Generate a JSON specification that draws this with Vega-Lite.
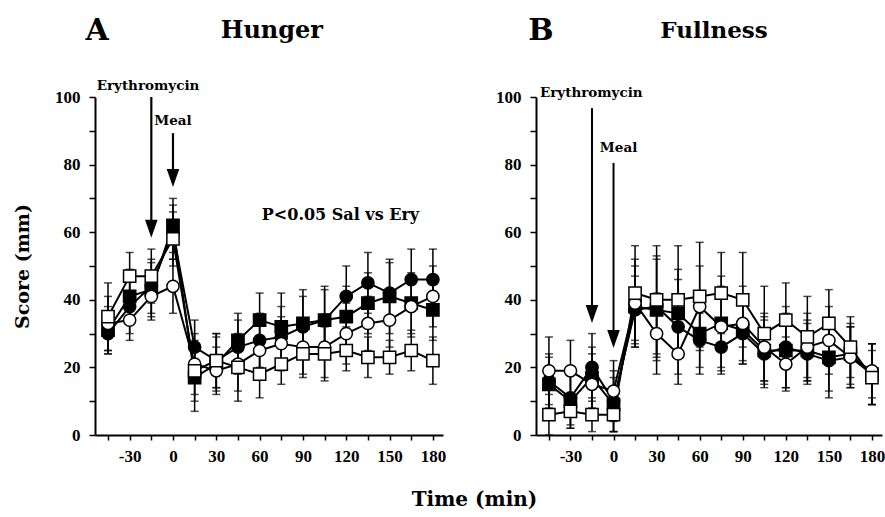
{
  "$schema": "https://vega.github.io/schema/vega-lite/v6.json",
  "background": "white",
  "padding": {"left": 13, "top": 15, "right": 0, "bottom": 0},
  "spacing": 93,
  "bounds": "flush",
  "datasets": {
    "hunger": [
      {"t": -45, "s": "fc", "v": 30, "e": 6}, {"t": -45, "s": "fs", "v": 31, "e": 7}, {"t": -45, "s": "oc", "v": 33, "e": 8}, {"t": -45, "s": "os", "v": 35, "e": 10},
      {"t": -30, "s": "fc", "v": 38, "e": 8}, {"t": -30, "s": "fs", "v": 41, "e": 8}, {"t": -30, "s": "oc", "v": 34, "e": 6}, {"t": -30, "s": "os", "v": 47, "e": 7},
      {"t": -15, "s": "fc", "v": 44, "e": 8}, {"t": -15, "s": "fs", "v": 43, "e": 8}, {"t": -15, "s": "oc", "v": 41, "e": 7}, {"t": -15, "s": "os", "v": 47, "e": 8},
      {"t": 0, "s": "fc", "v": 60, "e": 8}, {"t": 0, "s": "fs", "v": 62, "e": 8}, {"t": 0, "s": "oc", "v": 44, "e": 8}, {"t": 0, "s": "os", "v": 58, "e": 8},
      {"t": 15, "s": "fc", "v": 26, "e": 8}, {"t": 15, "s": "fs", "v": 17, "e": 10}, {"t": 15, "s": "oc", "v": 21, "e": 9}, {"t": 15, "s": "os", "v": 19, "e": 9},
      {"t": 30, "s": "fc", "v": 22, "e": 8}, {"t": 30, "s": "fs", "v": 21, "e": 8}, {"t": 30, "s": "oc", "v": 19, "e": 7}, {"t": 30, "s": "os", "v": 22, "e": 8},
      {"t": 45, "s": "fc", "v": 26, "e": 8}, {"t": 45, "s": "fs", "v": 28, "e": 8}, {"t": 45, "s": "oc", "v": 21, "e": 8}, {"t": 45, "s": "os", "v": 20, "e": 10},
      {"t": 60, "s": "fc", "v": 28, "e": 8}, {"t": 60, "s": "fs", "v": 34, "e": 8}, {"t": 60, "s": "oc", "v": 25, "e": 8}, {"t": 60, "s": "os", "v": 18, "e": 7},
      {"t": 75, "s": "fc", "v": 29, "e": 9}, {"t": 75, "s": "fs", "v": 32, "e": 10}, {"t": 75, "s": "oc", "v": 27, "e": 8}, {"t": 75, "s": "os", "v": 21, "e": 6},
      {"t": 90, "s": "fc", "v": 32, "e": 9}, {"t": 90, "s": "fs", "v": 33, "e": 10}, {"t": 90, "s": "oc", "v": 26, "e": 8}, {"t": 90, "s": "os", "v": 24, "e": 7},
      {"t": 105, "s": "fc", "v": 34, "e": 9}, {"t": 105, "s": "fs", "v": 34, "e": 10}, {"t": 105, "s": "oc", "v": 26, "e": 9}, {"t": 105, "s": "os", "v": 24, "e": 8},
      {"t": 120, "s": "fc", "v": 41, "e": 9}, {"t": 120, "s": "fs", "v": 35, "e": 9}, {"t": 120, "s": "oc", "v": 30, "e": 9}, {"t": 120, "s": "os", "v": 25, "e": 6},
      {"t": 135, "s": "fc", "v": 45, "e": 9}, {"t": 135, "s": "fs", "v": 39, "e": 9}, {"t": 135, "s": "oc", "v": 33, "e": 8}, {"t": 135, "s": "os", "v": 23, "e": 6},
      {"t": 150, "s": "fc", "v": 42, "e": 9}, {"t": 150, "s": "fs", "v": 41, "e": 11}, {"t": 150, "s": "oc", "v": 34, "e": 8}, {"t": 150, "s": "os", "v": 23, "e": 5},
      {"t": 165, "s": "fc", "v": 46, "e": 9}, {"t": 165, "s": "fs", "v": 39, "e": 9}, {"t": 165, "s": "oc", "v": 38, "e": 9}, {"t": 165, "s": "os", "v": 25, "e": 6},
      {"t": 180, "s": "fc", "v": 46, "e": 9}, {"t": 180, "s": "fs", "v": 37, "e": 9}, {"t": 180, "s": "oc", "v": 41, "e": 9}, {"t": 180, "s": "os", "v": 22, "e": 7}
    ],
    "fullness": [
      {"t": -45, "s": "fc", "v": 16, "e": 8}, {"t": -45, "s": "fs", "v": 15, "e": 8}, {"t": -45, "s": "oc", "v": 19, "e": 10}, {"t": -45, "s": "os", "v": 6, "e": 6},
      {"t": -30, "s": "fc", "v": 11, "e": 8}, {"t": -30, "s": "fs", "v": 10, "e": 8}, {"t": -30, "s": "oc", "v": 19, "e": 9}, {"t": -30, "s": "os", "v": 7, "e": 5},
      {"t": -15, "s": "fc", "v": 20, "e": 10}, {"t": -15, "s": "fs", "v": 17, "e": 9}, {"t": -15, "s": "oc", "v": 15, "e": 9}, {"t": -15, "s": "os", "v": 6, "e": 5},
      {"t": 0, "s": "fc", "v": 10, "e": 9}, {"t": 0, "s": "fs", "v": 9, "e": 8}, {"t": 0, "s": "oc", "v": 13, "e": 9}, {"t": 0, "s": "os", "v": 6, "e": 5},
      {"t": 15, "s": "fc", "v": 37, "e": 10}, {"t": 15, "s": "fs", "v": 38, "e": 12}, {"t": 15, "s": "oc", "v": 39, "e": 13}, {"t": 15, "s": "os", "v": 42, "e": 14},
      {"t": 30, "s": "fc", "v": 38, "e": 15}, {"t": 30, "s": "fs", "v": 37, "e": 15}, {"t": 30, "s": "oc", "v": 30, "e": 12}, {"t": 30, "s": "os", "v": 40, "e": 16},
      {"t": 45, "s": "fc", "v": 32, "e": 14}, {"t": 45, "s": "fs", "v": 36, "e": 13}, {"t": 45, "s": "oc", "v": 24, "e": 9}, {"t": 45, "s": "os", "v": 40, "e": 16},
      {"t": 60, "s": "fc", "v": 28, "e": 8}, {"t": 60, "s": "fs", "v": 30, "e": 12}, {"t": 60, "s": "oc", "v": 38, "e": 12}, {"t": 60, "s": "os", "v": 41, "e": 16},
      {"t": 75, "s": "fc", "v": 26, "e": 8}, {"t": 75, "s": "fs", "v": 33, "e": 14}, {"t": 75, "s": "oc", "v": 32, "e": 12}, {"t": 75, "s": "os", "v": 42, "e": 12},
      {"t": 90, "s": "fc", "v": 30, "e": 9}, {"t": 90, "s": "fs", "v": 31, "e": 10}, {"t": 90, "s": "oc", "v": 33, "e": 11}, {"t": 90, "s": "os", "v": 40, "e": 14},
      {"t": 105, "s": "fc", "v": 24, "e": 10}, {"t": 105, "s": "fs", "v": 25, "e": 10}, {"t": 105, "s": "oc", "v": 26, "e": 10}, {"t": 105, "s": "os", "v": 30, "e": 14},
      {"t": 120, "s": "fc", "v": 26, "e": 12}, {"t": 120, "s": "fs", "v": 25, "e": 11}, {"t": 120, "s": "oc", "v": 21, "e": 8}, {"t": 120, "s": "os", "v": 34, "e": 11},
      {"t": 135, "s": "fc", "v": 24, "e": 9}, {"t": 135, "s": "fs", "v": 25, "e": 9}, {"t": 135, "s": "oc", "v": 26, "e": 10}, {"t": 135, "s": "os", "v": 29, "e": 12},
      {"t": 150, "s": "fc", "v": 22, "e": 11}, {"t": 150, "s": "fs", "v": 23, "e": 10}, {"t": 150, "s": "oc", "v": 28, "e": 10}, {"t": 150, "s": "os", "v": 33, "e": 10},
      {"t": 165, "s": "fc", "v": 23, "e": 9}, {"t": 165, "s": "fs", "v": 24, "e": 9}, {"t": 165, "s": "oc", "v": 23, "e": 9}, {"t": 165, "s": "os", "v": 26, "e": 9},
      {"t": 180, "s": "fc", "v": 18, "e": 9}, {"t": 180, "s": "fs", "v": 18, "e": 9}, {"t": 180, "s": "oc", "v": 19, "e": 8}, {"t": 180, "s": "os", "v": 17, "e": 8}
    ]
  },
  "config": {
    "view": {"stroke": null},
    "font": "DejaVu Serif",
    "axis": {
      "grid": false,
      "domainColor": "black",
      "domainWidth": 2,
      "tickColor": "black",
      "tickWidth": 1.5,
      "labelFont": "Liberation Serif",
      "labelFontWeight": "bold",
      "labelFontSize": 17,
      "labelColor": "black",
      "labelOverlap": false,
      "labelFlush": false,
      "titleFont": "DejaVu Serif",
      "titleFontWeight": "bold",
      "titleColor": "black"
    }
  },
  "hconcat": [
    {
      "width": 348,
      "height": 338,
      "encoding": {
        "x": {"field": "t", "type": "quantitative", "scale": {"domain": [-54, 187], "nice": false, "zero": false}, "axis": {"values": [-45, -30, -15, 0, 15, 30, 45, 60, 75, 90, 105, 120, 135, 150, 165, 180], "labelExpr": "datum.value % 30 == 0 ? toString(datum.value) : ''", "tickSize": 5, "labelPadding": 8, "title": "Time (min)", "titleFontSize": 20, "titleX": 379, "titleY": 70, "titleBaseline": "alphabetic", "titleAlign": "center"}},
        "y": {"field": "v", "type": "quantitative", "scale": {"domain": [0, 100], "nice": false}, "axis": {"values": [0, 10, 20, 30, 40, 50, 60, 70, 80, 90, 100], "labelExpr": "datum.value % 20 == 0 ? datum.label : ''", "tickSize": 6, "labelPadding": 9, "title": "Score (mm)", "titleFontSize": 19, "titlePadding": 22}}
      },
      "layer": [
        {
          "data": {"name": "hunger"},
          "mark": {"type": "errorbar", "color": "black", "thickness": 1.5, "ticks": {"size": 8, "thickness": 1.5, "color": "black"}},
          "encoding": {
            "yError": {"field": "e"},
            "detail": {"field": "s", "type": "nominal"}
          }
        },
        {
          "data": {"name": "hunger"},
          "mark": {"type": "line", "color": "black", "strokeWidth": 2},
          "encoding": {
            "detail": {"field": "s", "type": "nominal"}
          }
        },
        {
          "data": {"name": "hunger"},
          "mark": {"type": "point", "filled": true, "stroke": "black", "strokeWidth": 1.5, "size": 150, "opacity": 1},
          "encoding": {
            "shape": {"field": "s", "type": "nominal", "scale": {"domain": ["fc", "fs", "oc", "os"], "range": ["circle", "square", "circle", "square"]}, "legend": null},
            "fill": {"field": "s", "type": "nominal", "scale": {"domain": ["fc", "fs", "oc", "os"], "range": ["black", "black", "white", "white"]}, "legend": null}
          }
        },
        {
          "data": {"values": [{"t": -15, "v": 100, "v2": 62}, {"t": 0, "v": 89.3, "v2": 77}]},
          "mark": {"type": "rule", "color": "black", "strokeWidth": 2.2},
          "encoding": {
            "y2": {"field": "v2"}
          }
        },
        {
          "data": {"values": [{"t": -15, "v": 61}, {"t": 0, "v": 76}]},
          "mark": {"type": "point", "shape": "M-0.7,-1L0.7,-1L0,1Z", "size": 324, "filled": true, "color": "black", "opacity": 1},
          "encoding": {}
        },
        {
          "data": {"values": [{"t": -17.3, "v": 102, "label": "Erythromycin"}, {"t": 0, "v": 91.7, "label": "Meal"}]},
          "mark": {"type": "text", "font": "DejaVu Serif", "fontWeight": "bold", "fontSize": 13.5, "align": "center", "baseline": "alphabetic", "color": "black"},
          "encoding": {
            "text": {"field": "label", "type": "nominal"}
          }
        },
        {
          "data": {"values": [{"t": 116, "v": 63.6, "label": "P<0.05 Sal vs Ery"}]},
          "mark": {"type": "text", "font": "DejaVu Serif", "fontWeight": "bold", "fontSize": 16, "align": "center", "baseline": "alphabetic", "color": "black"},
          "encoding": {
            "text": {"field": "label", "type": "nominal"}
          }
        },
        {
          "data": {"values": [{"t": -52.5, "v": 116.9, "label": "A"}]},
          "mark": {"type": "text", "font": "DejaVu Serif", "fontWeight": "bold", "fontSize": 30, "align": "center", "baseline": "alphabetic", "color": "black"},
          "encoding": {
            "text": {"field": "label", "type": "nominal"}
          }
        },
        {
          "data": {"values": [{"t": 68.5, "v": 117.5, "label": "Hunger"}]},
          "mark": {"type": "text", "font": "DejaVu Serif", "fontWeight": "bold", "fontSize": 24, "align": "center", "baseline": "alphabetic", "color": "black"},
          "encoding": {
            "text": {"field": "label", "type": "nominal"}
          }
        }
      ]
    },
    {
      "width": 346,
      "height": 338,
      "encoding": {
        "x": {"field": "t", "type": "quantitative", "scale": {"domain": [-54, 187], "nice": false, "zero": false}, "axis": {"values": [-45, -30, -15, 0, 15, 30, 45, 60, 75, 90, 105, 120, 135, 150, 165, 180], "labelExpr": "datum.value % 30 == 0 ? toString(datum.value) : ''", "tickSize": 5, "labelPadding": 8, "title": null}},
        "y": {"field": "v", "type": "quantitative", "scale": {"domain": [0, 100], "nice": false}, "axis": {"values": [0, 10, 20, 30, 40, 50, 60, 70, 80, 90, 100], "labelExpr": "datum.value % 20 == 0 ? datum.label : ''", "tickSize": 6, "labelPadding": 9, "title": null}}
      },
      "layer": [
        {
          "data": {"name": "fullness"},
          "mark": {"type": "errorbar", "color": "black", "thickness": 1.5, "ticks": {"size": 8, "thickness": 1.5, "color": "black"}},
          "encoding": {
            "yError": {"field": "e"},
            "detail": {"field": "s", "type": "nominal"}
          }
        },
        {
          "data": {"name": "fullness"},
          "mark": {"type": "line", "color": "black", "strokeWidth": 2},
          "encoding": {
            "detail": {"field": "s", "type": "nominal"}
          }
        },
        {
          "data": {"name": "fullness"},
          "mark": {"type": "point", "filled": true, "stroke": "black", "strokeWidth": 1.5, "size": 150, "opacity": 1},
          "encoding": {
            "shape": {"field": "s", "type": "nominal", "scale": {"domain": ["fc", "fs", "oc", "os"], "range": ["circle", "square", "circle", "square"]}, "legend": null},
            "fill": {"field": "s", "type": "nominal", "scale": {"domain": ["fc", "fs", "oc", "os"], "range": ["black", "black", "white", "white"]}, "legend": null}
          }
        },
        {
          "data": {"values": [{"t": -15, "v": 96.7, "v2": 37}, {"t": 0, "v": 80.5, "v2": 30}]},
          "mark": {"type": "rule", "color": "black", "strokeWidth": 2},
          "encoding": {
            "y2": {"field": "v2"}
          }
        },
        {
          "data": {"values": [{"t": -15, "v": 35.8}, {"t": 0, "v": 28.4}]},
          "mark": {"type": "point", "shape": "M-0.7,-1L0.7,-1L0,1Z", "size": 324, "filled": true, "color": "black", "opacity": 1},
          "encoding": {}
        },
        {
          "data": {"values": [{"t": -15.5, "v": 100, "label": "Erythromycin"}, {"t": 3.5, "v": 83.7, "label": "Meal"}]},
          "mark": {"type": "text", "font": "DejaVu Serif", "fontWeight": "bold", "fontSize": 13.5, "align": "center", "baseline": "alphabetic", "color": "black"},
          "encoding": {
            "text": {"field": "label", "type": "nominal"}
          }
        },
        {
          "data": {"values": [{"t": -50.5, "v": 116.9, "label": "B"}]},
          "mark": {"type": "text", "font": "DejaVu Serif", "fontWeight": "bold", "fontSize": 30, "align": "center", "baseline": "alphabetic", "color": "black"},
          "encoding": {
            "text": {"field": "label", "type": "nominal"}
          }
        },
        {
          "data": {"values": [{"t": 70, "v": 117.5, "label": "Fullness"}]},
          "mark": {"type": "text", "font": "DejaVu Serif", "fontWeight": "bold", "fontSize": 23, "align": "center", "baseline": "alphabetic", "color": "black"},
          "encoding": {
            "text": {"field": "label", "type": "nominal"}
          }
        }
      ]
    }
  ]
}
